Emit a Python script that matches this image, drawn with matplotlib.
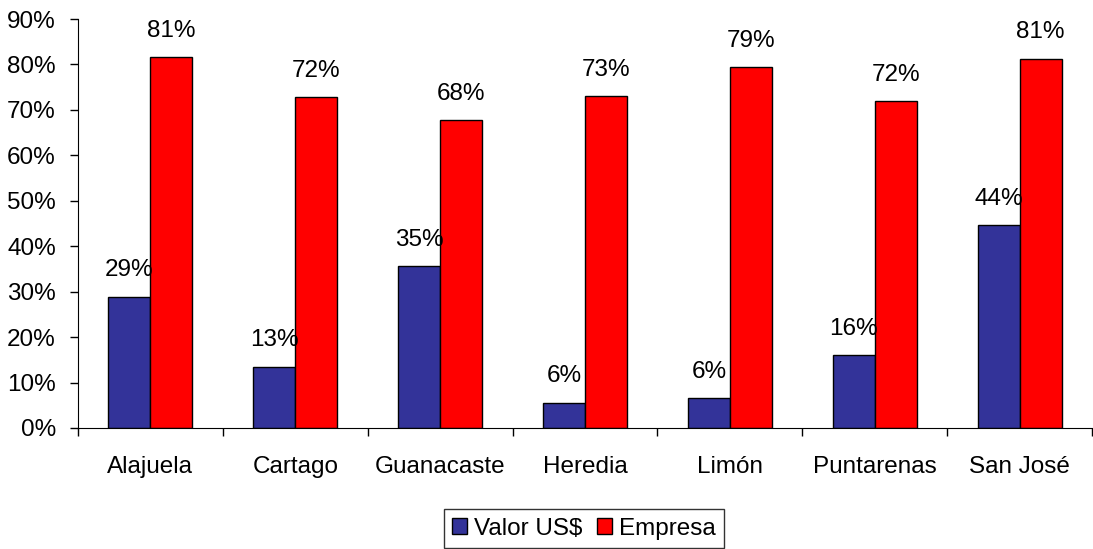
import matplotlib
matplotlib.use('Agg')
import matplotlib.pyplot as plt
import numpy as np

provinces = ['Alajuela', 'Cartago', 'Guanacaste', 'Heredia', 'Limón', 'Puntarenas', 'San José']
valor = [28.9, 13.5, 35.6, 5.6, 6.5, 16.0, 44.6]
empresa = [81.6, 72.8, 67.7, 73.0, 79.4, 71.9, 81.3]
valor_labels = ['29%', '13%', '35%', '6%', '6%', '16%', '44%']
empresa_labels = ['81%', '72%', '68%', '73%', '79%', '72%', '81%']

plt.rcParams['font.family'] = ['Liberation Sans', 'DejaVu Sans']
plt.rcParams['font.size'] = 17.5

fig = plt.figure(figsize=(10.93, 5.49), dpi=100)
ax = fig.add_axes([78 / 1093, 1 - 428 / 549, 1014 / 1093, 409 / 549])

x = np.arange(len(provinces))
w = 0.29
b1 = ax.bar(x - w / 2, valor, w, color='#333399', edgecolor='black', linewidth=1, label='Valor US\\$')
b2 = ax.bar(x + w / 2, empresa, w, color='#ff0000', edgecolor='black', linewidth=1, label='Empresa')

for bars, labs in [(b1, valor_labels), (b2, empresa_labels)]:
    for r, lab in zip(bars, labs):
        ax.annotate(lab, (r.get_x() + r.get_width() / 2, r.get_height()),
                    xytext=(0, 11), textcoords='offset points', ha='center', va='bottom')

ax.set_xlim(-0.5, len(provinces) - 0.5)
ax.set_ylim(0, 90)
ax.set_yticks(range(0, 91, 10))
ax.set_yticklabels([f'{v}%' for v in range(0, 91, 10)])
ax.set_xticks(x)
ax.set_xticklabels(provinces)
ax.set_xticks(np.arange(-0.5, len(provinces)), minor=True)
ax.tick_params(axis='x', which='major', length=0, pad=20)
ax.tick_params(axis='x', which='minor', length=6, direction='out', width=1)
ax.tick_params(axis='y', length=6, direction='out', width=1, pad=10)
ax.spines['top'].set_visible(False)
ax.spines['right'].set_visible(False)

leg = fig.legend(loc='upper center', bbox_to_anchor=(584 / 1093, 1 - 497 / 549), ncol=2,
                 frameon=True, fancybox=False, edgecolor='black', handlelength=0.6, handleheight=0.6,
                 handletextpad=0.3, columnspacing=0.6, borderpad=0.35)
leg.get_frame().set_linewidth(1)

fig.savefig('out.png', dpi=100)
